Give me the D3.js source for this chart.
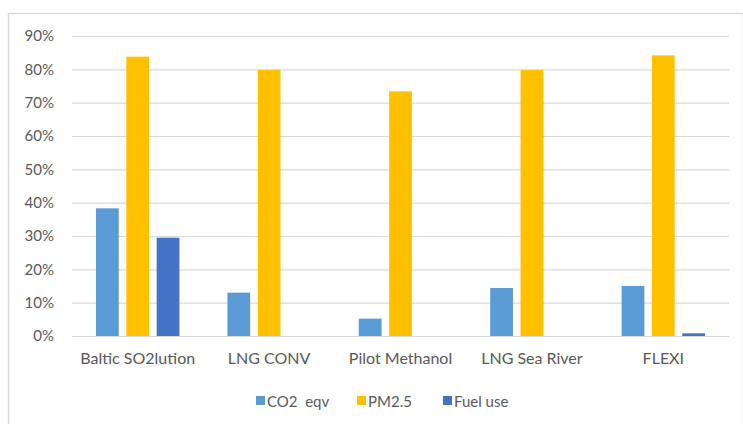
<!DOCTYPE html>
<html>
<head>
<meta charset="utf-8">
<script src="https://cdn.jsdelivr.net/npm/d3@7"></script>
<style>
  body { margin: 0; background: #fff; }
  svg text { font-family: Lato, "Noto Sans", sans-serif; fill: #595959; }
</style>
</head>
<body>
<div id="chart"></div>
<script>
// Data
const categories = ["Baltic SO2lution", "LNG CONV", "Pilot Methanol", "LNG Sea River", "FLEXI"];
const seriesNames = ["CO2  eqv", "PM2.5", "Fuel use"];
const co2Values = [0.383, 0.130, 0.052, 0.144, 0.150];
const pm25Values = [0.838, 0.798, 0.734, 0.798, 0.842];
const fuelValues = [0.295, 0, 0, 0, 0.008];
const yTicks = [0, 0.1, 0.2, 0.3, 0.4, 0.5, 0.6, 0.7, 0.8, 0.9];

const colors = ["#5B9BD5", "#FFC000", "#4472C4"];
const W = 743, H = 424;
const margin = { top: 36, right: 14, bottom: 88, left: 72 };
const plotW = W - margin.left - margin.right;
const plotH = H - margin.top - margin.bottom;

const series = [co2Values, pm25Values, fuelValues];

const svg = d3.select("#chart").append("svg")
  .attr("width", W)
  .attr("height", H);

// chart frame
svg.append("rect")
  .attr("x", 8.5).attr("y", 13.5)
  .attr("width", W - 8).attr("height", H)
  .attr("fill", "#fff")
  .attr("stroke", "#D9D9D9")
  .attr("stroke-width", 1.5);

const g = svg.append("g").attr("transform", `translate(${margin.left},${margin.top})`);

const x0 = d3.scaleBand().domain(categories).range([0, plotW]).paddingInner(0).paddingOuter(0);
const x1 = d3.scaleBand().domain(d3.range(seriesNames.length)).range([24, x0.bandwidth() - 24]).paddingInner(0.25);
const y = d3.scaleLinear().domain([0, 0.9]).range([plotH, 0]);

// gridlines
g.append("g")
  .call(d3.axisLeft(y).tickValues(yTicks).tickSize(-plotW).tickFormat(""))
  .call(s => s.select(".domain").remove())
  .call(s => s.selectAll("line").attr("stroke", "#D9D9D9").attr("stroke-width", 1.2));

// y labels
g.append("g")
  .call(d3.axisLeft(y).tickValues(yTicks).tickSize(0).tickPadding(18).tickFormat(d3.format(".0%")))
  .call(s => s.select(".domain").remove())
  .call(s => s.selectAll("text").attr("font-size", 15).style("fill", "#595959"));

// bars
categories.forEach((c, i) => {
  series.forEach((vals, j) => {
    if (vals[i] <= 0) return;
    g.append("rect")
      .attr("x", x0(c) + x1(j))
      .attr("y", y(vals[i]))
      .attr("width", x1.bandwidth())
      .attr("height", y(0) - y(vals[i]))
      .attr("fill", colors[j]);
  });
});

// x axis labels
g.append("g")
  .attr("transform", `translate(0,${plotH})`)
  .call(d3.axisBottom(x0).tickSize(0).tickPadding(17))
  .call(s => s.select(".domain").remove())
  .call(s => s.selectAll("text").attr("font-size", 16).style("fill", "#595959"));

// legend
const legend = svg.append("g").attr("transform", "translate(0,401)");
const legendX = [256, 357, 443];
seriesNames.forEach((n, j) => {
  const item = legend.append("g").attr("transform", `translate(${legendX[j]},0)`);
  item.append("rect").attr("x", 0).attr("y", -5).attr("width", 9).attr("height", 9).attr("fill", colors[j]);
  item.append("text").attr("x", 11).attr("y", 5.5).attr("font-size", 15)
    .style("white-space", "pre").attr("xml:space", "preserve").text(n);
});
</script>
</body>
</html>
